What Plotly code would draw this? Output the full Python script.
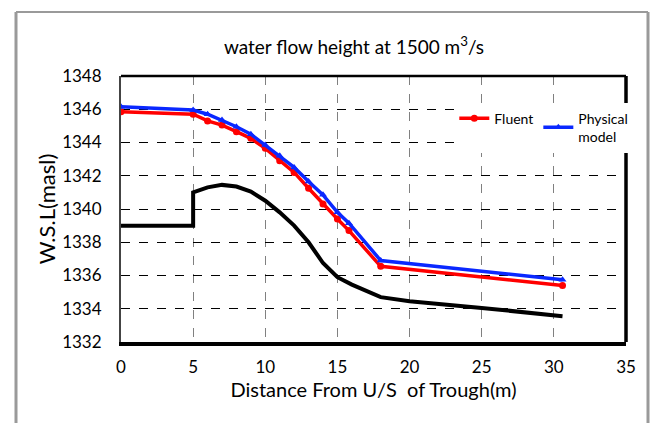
import plotly.graph_objects as go

# Data
x_pts = [0, 5, 6, 7, 8, 9, 10, 11, 12, 13, 14, 15, 15.8, 18, 30.6]
fluent = [1345.85, 1345.7, 1345.3, 1345.05, 1344.65, 1344.25, 1343.65, 1342.9,
          1342.2, 1341.25, 1340.3, 1339.4, 1338.7, 1336.55, 1335.4]
physical = [1346.15, 1345.95, 1345.7, 1345.35, 1344.95, 1344.5, 1343.85, 1343.2,
            1342.5, 1341.65, 1340.85, 1339.8, 1339.15, 1336.9, 1335.75]

bed_x = [0, 5, 5, 6, 7, 8, 9, 10, 11, 12, 13, 14, 15, 16, 18, 20, 25, 30.6]
bed_y = [1339, 1339, 1341.0, 1341.3, 1341.45, 1341.35, 1341.05, 1340.5, 1339.8,
         1339.0, 1338.0, 1336.75, 1335.9, 1335.45, 1334.7, 1334.45, 1334.05, 1333.55]

x_ticks = [0, 5, 10, 15, 20, 25, 30, 35]
y_ticks = [1332, 1334, 1336, 1338, 1340, 1342, 1344, 1346, 1348]

FONT = "Lato"

fig = go.Figure()
fig.add_trace(go.Scatter(x=bed_x, y=bed_y, mode="lines",
                         line=dict(color="black", width=4),
                         showlegend=False, hoverinfo="skip"))
fig.add_trace(go.Scatter(x=x_pts, y=fluent, mode="lines+markers", name="Fluent",
                         line=dict(color="#ff0000", width=3.5),
                         marker=dict(symbol="circle", size=7, color="#ff0000")))
fig.add_trace(go.Scatter(x=x_pts, y=physical, mode="lines+markers", name="Physical<br>model",
                         line=dict(color="#0a28ff", width=3.5),
                         marker=dict(symbol="triangle-up", size=7, color="#0a28ff")))

fig.update_layout(
    width=654, height=423,
    margin=dict(l=121, r=28, t=76, b=81),
    paper_bgcolor="white", plot_bgcolor="white",
    font=dict(family=FONT, size=17, color="black"),
    title=dict(text="water flow height at 1500 m<sup>3</sup>/s",
               x=354 / 654, xref="container", xanchor="center",
               y=1 - 47 / 423, yref="container", yanchor="middle",
               font=dict(family=FONT, size=19, color="black")),
    xaxis=dict(range=[0, 35], tickvals=x_ticks, ticks="", showgrid=True,
               gridcolor="#808080", gridwidth=1.3, griddash="dash",
               showline=True, linecolor="black", linewidth=4, zeroline=False,
               title=dict(text="Distance From U/S  of Trough(m)", standoff=5,
                          font=dict(family=FONT, size=20)),
               tickfont=dict(family=FONT, size=17), ticklabelstandoff=7),
    yaxis=dict(range=[1332, 1348], tickvals=y_ticks, ticks="", showgrid=True,
               gridcolor="black", gridwidth=1.3, griddash="dash",
               showline=True, linecolor="#444444", linewidth=2, zeroline=False,
               title=dict(text="W.S.L(masl)", standoff=0,
                          font=dict(family=FONT, size=22)),
               tickfont=dict(family=FONT, size=17), ticklabelstandoff=14),
    legend=dict(orientation="h", x=0.66, y=0.9, xanchor="left", yanchor="top",
                bgcolor="white", font=dict(family=FONT, size=14),
                itemwidth=30, tracegroupgap=0),
    shapes=[
        # top and right plot border
        dict(type="line", xref="paper", yref="paper", x0=0, x1=1, y0=1, y1=1,
             line=dict(color="black", width=2.5)),
        dict(type="line", xref="paper", yref="paper", x0=1, x1=1, y0=0, y1=1,
             line=dict(color="black", width=3.5)),
        # outer grey frame
        dict(type="line", xref="paper", yref="paper",
             x0=(16 - 121) / 505, x1=(16 - 121) / 505, y0=-0.4, y1=(342 - 12) / 266,
             line=dict(color="#9a9a9a", width=3)),
        dict(type="line", xref="paper", yref="paper",
             x0=(648 - 121) / 505, x1=(648 - 121) / 505, y0=-0.4, y1=(342 - 12) / 266,
             line=dict(color="#9a9a9a", width=3)),
        dict(type="line", xref="paper", yref="paper",
             x0=(16 - 121) / 505, x1=(648 - 121) / 505,
             y0=(342 - 12) / 266, y1=(342 - 12) / 266,
             line=dict(color="#9a9a9a", width=2)),
    ],
)

fig.write_html("out.html")
